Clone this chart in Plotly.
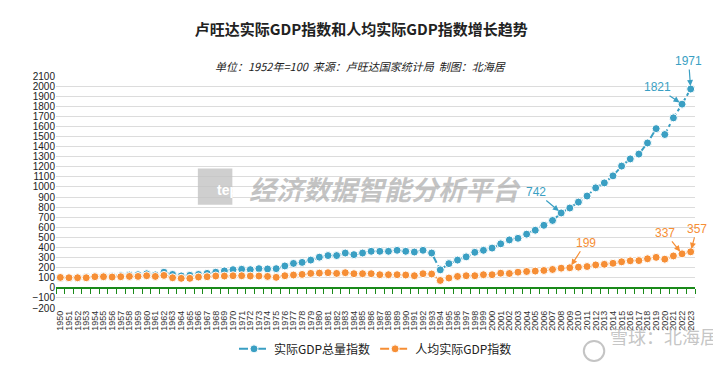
import plotly.graph_objects as go

years = list(range(1950, 2024))

gdp_index = [97, 98, 100, 104, 113, 115, 116, 120, 126, 130,
             139, 128, 155, 133, 118, 124, 133, 143, 155, 168,
             180, 184, 180, 190, 187, 190, 217, 242, 252, 275,
             304, 320, 320, 345, 329, 345, 362, 362, 362, 372,
             362, 355, 372, 345, 178, 240, 275, 307, 352, 372,
             394, 436, 475, 491, 532, 571, 620, 668, 742, 791,
             850, 910, 991, 1040, 1110, 1207, 1278, 1326, 1436, 1578,
             1520, 1685, 1821, 1971]

pc_index = [103, 100, 100, 100, 110, 110, 107, 110, 113, 113,
            120, 113, 123, 100, 94, 94, 107, 110, 117, 117,
            120, 120, 117, 117, 113, 104, 120, 127, 133, 143,
            146, 150, 143, 150, 140, 140, 140, 130, 130, 130,
            127, 120, 140, 137, 73, 97, 113, 120, 120, 130,
            130, 145, 142, 155, 162, 166, 172, 182, 195, 199,
            205, 211, 227, 233, 243, 258, 268, 270, 288, 302,
            284, 316, 337, 357]

series_names = ["实际GDP总量指数", "人均实际GDP指数"]
y_ticks = list(range(-200, 2101, 100))

title_text = "卢旺达实际GDP指数和人均实际GDP指数增长趋势"
subtitle_text = "单位：1952年=100  来源：卢旺达国家统计局  制图：北海居"

BLUE = "#3A9FC3"
ORANGE = "#F68E35"

fig = go.Figure()
for name, vals, col, xa in [(series_names[0], gdp_index, BLUE, "x"), (series_names[1], pc_index, ORANGE, "x2")]:
    fig.add_trace(go.Scatter(
        x=years, y=vals, name=name, mode="lines+markers", xaxis=xa,
        line=dict(color=col, width=2, dash="dashdot"),
        marker=dict(size=8, color=col, line=dict(color="white", width=1)),
    ))

# annotated points: (series values, color, year, ax, ay, axis)
callouts = [
    (gdp_index, BLUE, 2008, -25, -21, "x"),
    (gdp_index, BLUE, 2022, -25, -17, "x"),
    (gdp_index, BLUE, 2023, -2, -28, "x"),
    (pc_index, ORANGE, 2009, 16, -25, "x2"),
    (pc_index, ORANGE, 2022, -17, -21, "x2"),
    (pc_index, ORANGE, 2023, 6, -23, "x2"),
]
for vals, col, yr, ax, ay, xr in callouts:
    v = vals[years.index(yr)]
    fig.add_annotation(x=yr, y=v, xref=xr, yref="y", text=str(v), showarrow=True, ax=ax, ay=ay,
                       arrowhead=2, arrowsize=1, arrowwidth=1.2, arrowcolor=col,
                       font=dict(color=col, size=12, family="Liberation Sans Narrow, Arial Narrow, Arial"),
                       standoff=3)

# subtitle
fig.add_annotation(xref="paper", yref="paper", x=0.476, y=1.088, text="<i>" + subtitle_text + "</i>",
                   showarrow=False, font=dict(size=11, color="#222", family="Noto Sans CJK SC"))

# watermarks
fig.add_shape(type="rect", xref="paper", yref="paper", x0=0.222, x1=0.276, y0=0.445, y1=0.601,
              fillcolor="rgba(195,195,195,0.8)", line=dict(width=0), layer="above")
fig.add_annotation(xref="paper", yref="paper", x=0.249, y=0.51, text="<b>tep</b>", showarrow=False,
                   font=dict(size=14, color="white", family="Liberation Sans"))
fig.add_annotation(xref="paper", yref="paper", x=0.515, y=0.517, text="<b><i>经济数据智能分析平台</i></b>",
                   showarrow=False, font=dict(size=27, color="rgba(175,175,175,0.75)", family="Noto Sans CJK SC"))
fig.add_annotation(xref="paper", yref="paper", x=1.039, xanchor="right", y=-0.185, text="雪球：北海居",
                   showarrow=False, font=dict(size=18, color="rgba(190,190,190,0.9)", family="Noto Sans CJK SC"))
fig.add_shape(type="circle", xref="paper", yref="paper", x0=0.826, x1=0.858, y0=-0.228, y1=-0.142,
              line=dict(color="rgba(190,190,190,0.9)", width=2))

zero_frac = 200 / 2300

fig.update_layout(
    width=721, height=367,
    margin=dict(l=48, r=34, t=68, b=61),
    paper_bgcolor="white", plot_bgcolor="white",
    title=dict(text="<b>" + title_text + "</b>", x=0.49, xanchor="center", y=0.94, yanchor="middle",
               font=dict(size=15, color="#222", family="Noto Sans CJK SC")),
    showlegend=True,
    legend=dict(orientation="h", x=0.5, xanchor="center", y=-0.176, yanchor="middle",
                font=dict(size=12, color="#222", family="Noto Sans CJK SC"), itemwidth=30),
    xaxis=dict(range=[1949.5, 2023.5], tickmode="array", tickvals=years, ticktext=[str(y) for y in years],
               tickangle=-90, tickfont=dict(size=9, color="#333", family="Liberation Sans Narrow, Arial Narrow, Arial"),
               showgrid=False, showline=False, ticks="", zeroline=False),
    xaxis2=dict(overlaying="x", anchor="free", position=zero_frac, range=[1949.5, 2023.5],
                tickmode="linear", tick0=1949.5, dtick=1, ticks="outside", ticklen=5, tickcolor="#1a8a1a",
                showticklabels=False, showline=True, linecolor="#1a8a1a", linewidth=1.5, showgrid=False,
                zeroline=False),
    yaxis=dict(range=[-200, 2100], tickmode="array", tickvals=y_ticks, showgrid=True, gridcolor="#dcdcdc",
               gridwidth=1, zeroline=False, showline=False, ticks="",
               tickfont=dict(size=10, color="#222", family="Liberation Sans Narrow, Arial Narrow, Arial")),
)

fig.write_html("out.html")
